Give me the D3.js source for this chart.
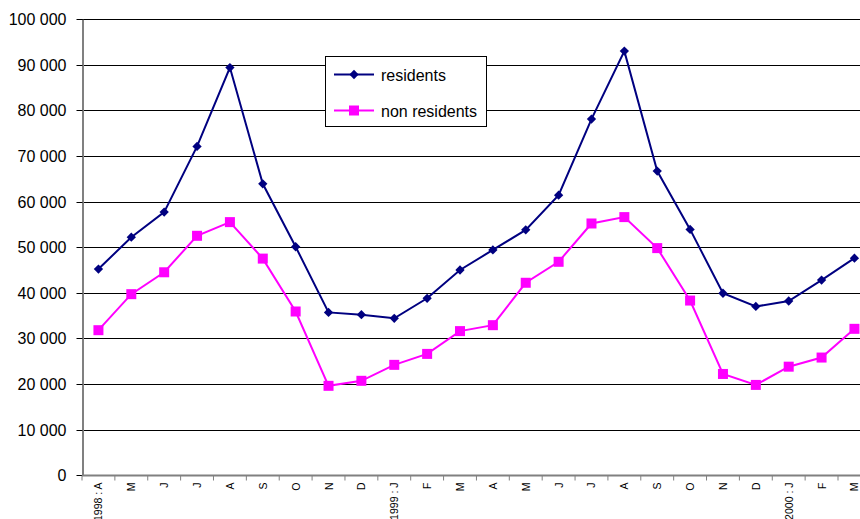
<!DOCTYPE html>
<html>
<head>
<meta charset="utf-8">
<script src="https://cdn.jsdelivr.net/npm/d3@7"></script>
<style>
  html, body { margin: 0; padding: 0; background: #fff; }
  svg { display: block; font-family: Arial, "Liberation Sans", sans-serif; }
</style>
</head>
<body>
<svg id="chart" width="860" height="519"></svg>
<script>
// ---- data ----
const categories = ["1998 : A","M","J","J","A","S","O","N","D","1999 : J","F","M","A","M","J","J","A","S","O","N","D","2000 : J","F","M"];
const residents = [45200,52200,57700,72100,89400,63900,50100,35700,35200,34400,38800,45000,49400,53800,61400,78100,93000,66700,53900,39900,37000,38200,42800,47600];
const nonResidents = [31800,39700,44500,52500,55500,47500,35900,19600,20700,24200,26600,31600,32900,42200,46800,55200,56600,49800,38300,22200,19800,23800,25800,32100];
const yTicks = [0,10000,20000,30000,40000,50000,60000,70000,80000,90000,100000];
const seriesNames = ["residents","non residents"];

(function () {
// ---- layout ----
const svg = d3.select("#chart");
const pLeft = 82, pTop = 19.2, pBottom = 475.2;
const step = 32.87;
const pRight = pLeft + step * categories.length;

const x = d3.scaleBand().domain(d3.range(categories.length)).range([pLeft, pRight]).padding(0);
const y = d3.scaleLinear().domain([0, 100000]).range([pBottom, pTop]);
const fmt = v => d3.format(",")(v).replace(/,/g, " ");

// gridlines
svg.append("g").selectAll("line").data(yTicks.filter(d => d > 0)).join("line")
  .attr("x1", pLeft).attr("x2", pRight)
  .attr("y1", d => Math.round(y(d)) + 0.5).attr("y2", d => Math.round(y(d)) + 0.5)
  .attr("stroke", "#000").attr("stroke-width", 1);

// y axis
const yAxis = svg.append("g").attr("transform", `translate(${pLeft + 0.5},0)`)
  .call(d3.axisLeft(y).tickValues(yTicks).tickFormat(fmt).tickSize(6).tickSizeOuter(0));
yAxis.select(".domain").attr("stroke", "#808080").attr("stroke-width", 2);
yAxis.selectAll(".tick line").attr("stroke", "#000");
yAxis.selectAll(".tick text").attr("font-size", 16).attr("fill", "#000")
  .attr("x", -16).attr("font-family", "Arial, 'Liberation Sans', sans-serif");
yAxis.selectAll(".tick").attr("transform", d => `translate(0,${Math.round(y(d)) + 0.5})`);

// x axis
const xAxis = svg.append("g").attr("transform", `translate(0,${Math.round(pBottom) + 0.5})`);
xAxis.append("line").attr("x1", pLeft).attr("x2", pRight).attr("stroke", "#808080").attr("stroke-width", 2);
xAxis.selectAll("line.tk").data(d3.range(categories.length + 1)).join("line").attr("class", "tk")
  .attr("x1", i => pLeft + i * x.bandwidth()).attr("x2", i => pLeft + i * x.bandwidth())
  .attr("y1", 0).attr("y2", 5).attr("stroke", "#808080").attr("stroke-width", 1);
xAxis.selectAll("text").data(categories).join("text")
  .attr("transform", (d, i) => `translate(${x(i) + x.bandwidth() / 2 + 4},7) rotate(-90)`)
  .attr("text-anchor", "end").attr("font-size", 10.5).attr("fill", "#000")
  .text(d => d);

// lines
const cx = i => x(i) + x.bandwidth() / 2;
const line = d3.line().x((d, i) => cx(i)).y(d => y(d));
svg.append("path").datum(residents).attr("d", line)
  .attr("fill", "none").attr("stroke", "#000080").attr("stroke-width", 2);
svg.append("path").datum(nonResidents).attr("d", line)
  .attr("fill", "none").attr("stroke", "#FF00FF").attr("stroke-width", 2);

// markers
const diamond = d3.symbol().type(d3.symbolDiamond2).size(55);
svg.append("g").selectAll("path").data(residents).join("path")
  .attr("d", diamond)
  .attr("transform", (d, i) => `translate(${cx(i)},${y(d)})`)
  .attr("fill", "#000080");
svg.append("g").selectAll("rect").data(nonResidents).join("rect")
  .attr("x", (d, i) => cx(i) - 5).attr("y", d => y(d) - 5)
  .attr("width", 10).attr("height", 10).attr("fill", "#FF00FF");

// legend
const lg = svg.append("g");
lg.append("rect").attr("x", 325.5).attr("y", 56.5).attr("width", 161).attr("height", 70)
  .attr("fill", "#fff").attr("stroke", "#000").attr("stroke-width", 1);
const colors = ["#000080", "#FF00FF"];
seriesNames.forEach((name, k) => {
  const ly = k === 0 ? 74.5 : 110.5;
  lg.append("line").attr("x1", 334).attr("x2", 374).attr("y1", ly).attr("y2", ly)
    .attr("stroke", colors[k]).attr("stroke-width", 2);
  if (k === 0) {
    lg.append("path").attr("d", diamond).attr("transform", `translate(354,${ly})`).attr("fill", colors[k]);
  } else {
    lg.append("rect").attr("x", 349).attr("y", ly - 5).attr("width", 10).attr("height", 10).attr("fill", colors[k]);
  }
  lg.append("text").attr("x", 381).attr("y", ly + 6).attr("font-size", 16).attr("fill", "#000").text(name);
});
})();
</script>
</body>
</html>
